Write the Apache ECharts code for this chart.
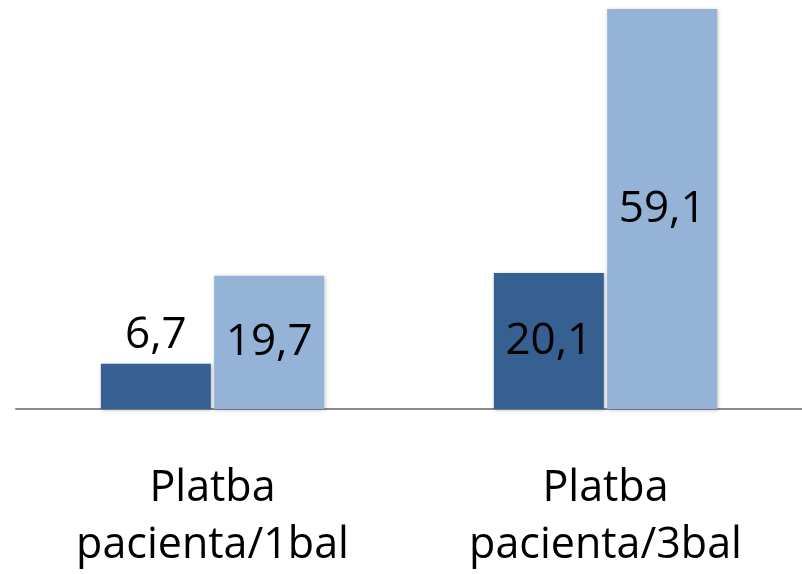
<!DOCTYPE html>
<html>
<head>
<meta charset="utf-8">
<script src="https://cdn.jsdelivr.net/npm/echarts@6/dist/echarts.min.js"></script>
<style>html,body{margin:0;padding:0;background:#fff}#c{width:802px;height:574px}</style>
</head>
<body>
<div id="c"></div>
<script>
const categories = ['Platba\npacienta/1bal', 'Platba\npacienta/3bal'];
const seriesA = [6.7, 20.1];
const seriesB = [19.7, 59.1];

const fmt = p => String(p.value).replace('.', ',');
const chart = echarts.init(document.getElementById('c'));
chart.setOption({
  animation: false,
  grid: { left: 16, right: 0, top: 3, bottom: 159 },
  xAxis: {
    type: 'category', data: categories,
    axisLine: { lineStyle: { color: '#8a8a8a', width: 2 } },
    axisTick: { show: false },
    axisLabel: { fontFamily: 'Open Sans', fontSize: 43, color: '#000', lineHeight: 57, margin: 51 }
  },
  yAxis: { type: 'value', min: 0, max: 60, show: false, splitLine: { show: false } },
  series: [
    { type: 'bar', data: seriesA.map((v, i) => i === 0 ? { value: v, label: { position: 'top', distance: 6 } } : v),
      barWidth: 110, barGap: '3%',
      itemStyle: { color: '#366092', shadowColor: 'rgba(0,0,0,0.25)', shadowBlur: 4, shadowOffsetX: 1, shadowOffsetY: 1 },
      label: { show: true, formatter: fmt, fontFamily: 'Open Sans', fontSize: 44, color: '#000', position: 'inside' }
    },
    { type: 'bar', data: seriesB, barWidth: 110,
      itemStyle: { color: '#95B3D7', shadowColor: 'rgba(0,0,0,0.25)', shadowBlur: 4, shadowOffsetX: 1, shadowOffsetY: 1 },
      label: { show: true, formatter: fmt, fontFamily: 'Open Sans', fontSize: 44, color: '#000', position: 'inside' }
    }
  ]
});
</script>
</body>
</html>
